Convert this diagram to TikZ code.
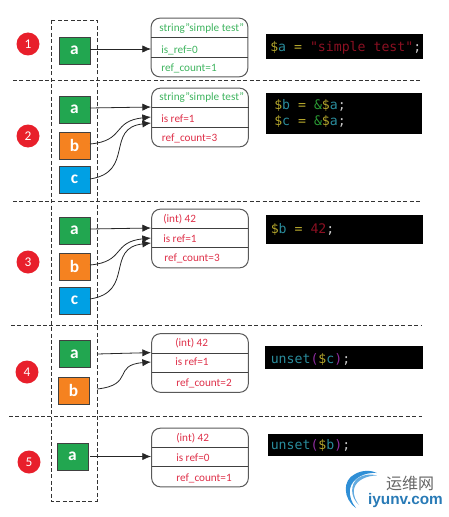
\documentclass[tikz,border=0pt]{standalone}
\usepackage{fontspec}
\setmainfont{Carlito}
\setmonofont{DejaVu Sans Mono}
\newfontfamily\cjkfont{Noto Sans CJK SC}
\newfontfamily\logofont{Liberation Sans}
\usetikzlibrary{arrows.meta}
\definecolor{cgreen}{HTML}{22A650}
\definecolor{corange}{HTML}{F58220}
\definecolor{cblue}{HTML}{00A0E4}
\definecolor{cred}{HTML}{E81F2B}
\definecolor{tgreen}{HTML}{3FB45F}
\definecolor{tred}{HTML}{DE3049}
\definecolor{cy}{HTML}{B3A52C}
\definecolor{ct}{HTML}{2A8C9C}
\definecolor{cs}{HTML}{8C1022}
\definecolor{ca}{HTML}{2A9A34}
\definecolor{cp}{HTML}{8E2C9E}
\definecolor{cw}{HTML}{C8C8C8}
\definecolor{logob}{HTML}{2F8FD6}
\newcommand{\Cy}[1]{\textcolor{cy}{#1}}
\newcommand{\Ct}[1]{\textcolor{ct}{#1}}
\newcommand{\Cs}[1]{\textcolor{cs}{#1}}
\newcommand{\Ca}[1]{\textcolor{ca}{#1}}
\newcommand{\Cp}[1]{\textcolor{cp}{#1}}
\newcommand{\Cw}[1]{\textcolor{cw}{#1}}
\tikzset{
  x=0.75pt,y=-0.75pt,
  badge/.style={circle,fill=cred,draw=none,minimum size=17.25pt,inner sep=0pt,text=white,font=\fontsize{10}{11}\selectfont},
  var/.style={draw=black!75,line width=0.6pt,inner sep=0pt,minimum width=23.25pt,minimum height=20.25pt,text=white,font=\fontsize{13}{14}\selectfont\bfseries},
  record/.style={draw=black!65,line width=0.75pt,rounded corners=6.5pt,inner sep=0pt,minimum width=72.5pt,minimum height=44pt},
  sep/.style={draw=black!75,line width=0.6pt},
  gt/.style={text=tgreen,anchor=west,inner sep=0pt,font=\fontsize{8.4}{10}\selectfont},
  rt/.style={text=tred,anchor=west,inner sep=0pt,font=\fontsize{8.4}{10}\selectfont},
  code/.style={fill=black,draw=none,inner sep=0pt},
  codetext/.style={anchor=base west,inner sep=0pt,align=left,font=\ttfamily\fontsize{9.9}{12.45}\selectfont},
  divider/.style={draw=black!80,dashed,dash pattern=on 3pt off 1.8pt,line width=0.6pt},
  link/.style={draw=black!85,line width=0.6pt,-{Latex[length=6.5pt,width=5.5pt]}},
}
\begin{document}
\begin{tikzpicture}
\useasboundingbox (0,0) rectangle (449,517);
% dividers and stack frame
\draw[divider] (51,20) rectangle (97,501);
\draw[divider] (13,80.5) -- (422,80.5);
\draw[divider] (13,201) -- (422,201);
\draw[divider] (11,325) -- (422,325);
\draw[divider] (9,416) -- (422,416);
% badges
\node[badge] (n1) at (28,44) {1};
\node[badge] (n2) at (28,136) {2};
\node[badge] (n3) at (28,262) {3};
\node[badge] (n4) at (27,372) {4};
\node[badge] (n5) at (29,462) {5};
% variables
\node[var,fill=cgreen] (a1) at (74.5,50.5) {a};
\node[var,fill=cgreen] (a2) at (74.5,109.5) {a};
\node[var,fill=corange] (b2) at (74.5,145.5) {b};
\node[var,fill=cblue] (c2) at (74.5,179.5) {c};
\node[var,fill=cgreen] (a3) at (74.5,230.5) {a};
\node[var,fill=corange] (b3) at (74.5,266.5) {b};
\node[var,fill=cblue] (c3) at (74.5,300.5) {c};
\node[var,fill=cgreen] (a4) at (74.5,354) {a};
\node[var,fill=corange] (b4) at (73.5,390.5) {b};
\node[var,fill=cgreen] (a5) at (72.5,456.5) {a};
% records
\node[record] (r1) at (199.5,47.5) {};
\draw[sep] (151,37) -- (248,37) (151,57) -- (248,57);
\node[gt] (r1a) at (159,29) {string"simple test"};
\node[gt] (r1b) at (161,50) {is\_ref=0};
\node[gt] (r1c) at (161,68) {ref\_count=1};
\node[record] (r2) at (200,117.5) {};
\draw[sep] (152,107.5) -- (248.5,107.5) (152,127) -- (248.5,127);
\node[gt] (r2a) at (159,98) {string"simple test"};
\node[rt] (r2b) at (161,119) {is ref=1};
\node[rt] (r2c) at (161.5,138) {ref\_count=3};
\node[record] (r3) at (200,238.5) {};
\draw[sep] (152,228) -- (248,228) (152,247.5) -- (248,247.5);
\node[rt] (r3a) at (163,219.5) {(int) 42};
\node[rt] (r3b) at (163,239) {is ref=1};
\node[rt] (r3c) at (164,258) {ref\_count=3};
\node[record] (r4) at (200,363) {};
\draw[sep] (152,353) -- (248,353) (152,372) -- (248,372);
\node[rt] (r4a) at (175,343) {(int) 42};
\node[rt] (r4b) at (175,362) {is ref=1};
\node[rt] (r4c) at (176,383) {ref\_count=2};
\node[record] (r5) at (200,457.5) {};
\draw[sep] (152,447) -- (248,447) (152,466) -- (248,466);
\node[rt] (r5a) at (176,438) {(int) 42};
\node[rt] (r5b) at (176,457.5) {is ref=0};
\node[rt] (r5c) at (176,478) {ref\_count=1};
% connector ends
\coordinate (s1) at (90,49);
\coordinate (e1) at (151,49);
\coordinate (s2a) at (90,108);
\coordinate (s2b) at (90,144);
\coordinate (s2c) at (90,179);
\coordinate (e2a) at (151,107);
\coordinate (e2b) at (151,117);
\coordinate (e2c) at (151,123);
\coordinate (s3a) at (90,229);
\coordinate (s3b) at (90,265);
\coordinate (s3c) at (90,299);
\coordinate (e3a) at (151,228);
\coordinate (e3b) at (151,238);
\coordinate (e3c) at (151,243);
\coordinate (s4a) at (97,354);
\coordinate (s4b) at (97,389);
\coordinate (e4a) at (151,352.6);
\coordinate (e4b) at (151,362);
\coordinate (s5) at (90,456.5);
\coordinate (e5) at (151,456.5);
% connectors
\draw[link] (s1) -- (e1);
\draw[link] (s2a) -- (e2a);
\draw[link] (s2b) .. controls (125,141) and (112,121) .. (e2b);
\draw[link] (s2c) .. controls (135,172) and (105,128) .. (e2c);
\draw[link] (s3a) -- (e3a);
\draw[link] (s3b) .. controls (125,262) and (112,242) .. (e3b);
\draw[link] (s3c) .. controls (135,292) and (105,248) .. (e3c);
\draw[link] (s4a) -- (e4a);
\draw[link] (s4b) .. controls (135,385) and (112,365) .. (e4b);
\draw[link] (s5) -- (e5);
% code boxes
\fill[code] (266,34) rectangle (423,59);
\node[codetext] (t1) at (270,52) {\Cy{\$}\Ct{a} \Cy{=} \Cs{"simple test"}\Cw{;}};
\fill[code] (266,93) rectangle (422,134);
\node[codetext,anchor=west] (t2) at (274,113.5) {\Cy{\$}\Ct{b} \Cy{=} \Ca{\&}\Cy{\$}\Ct{a}\Cw{;}\\\Cy{\$}\Ct{c} \Cy{=} \Ca{\&}\Cy{\$}\Ct{a}\Cw{;}};
\fill[code] (266,215) rectangle (423,244);
\node[codetext] (t3) at (270.5,233) {\Cy{\$}\Ct{b} \Cy{=} \Cs{42}\Cw{;}};
\fill[code] (265,346) rectangle (423,369);
\node[codetext] (t4) at (270.5,363) {\Ct{unset}\Cp{(}\Cy{\$}\Ct{c}\Cp{)}\Cw{;}};
\fill[code] (268,434) rectangle (423,456);
\node[codetext] (t5) at (270.5,449) {\Ct{unset}\Cp{(}\Cy{\$}\Ct{b}\Cp{)}\Cw{;}};
% logo
\fill[logob] (356,508) .. controls (343,499) and (342,480) .. (355,474)
  .. controls (362,470) and (371,470) .. (377,473)
  .. controls (365,472) and (352,478) .. (350,489)
  .. controls (349,497) and (352,503) .. (356,508) -- cycle;
\fill[logob!75!white] (359,505) .. controls (350,497) and (350,484) .. (358,478)
  .. controls (364,474) and (372,474) .. (377,475.5)
  .. controls (367,475.5) and (356,480) .. (354,489)
  .. controls (353,496) and (356,501) .. (359,505) -- cycle;
\node[inner sep=0pt,text=black!60,font=\cjkfont\fontsize{12}{14}\selectfont] (logo1) at (410,483.5) {运维网};
\node[inner sep=0pt,text=logob!85!black,font=\logofont\bfseries\fontsize{11.5}{13}\selectfont] (logo2) at (405.5,501) {iyunv.com};
\end{tikzpicture}
\end{document}
